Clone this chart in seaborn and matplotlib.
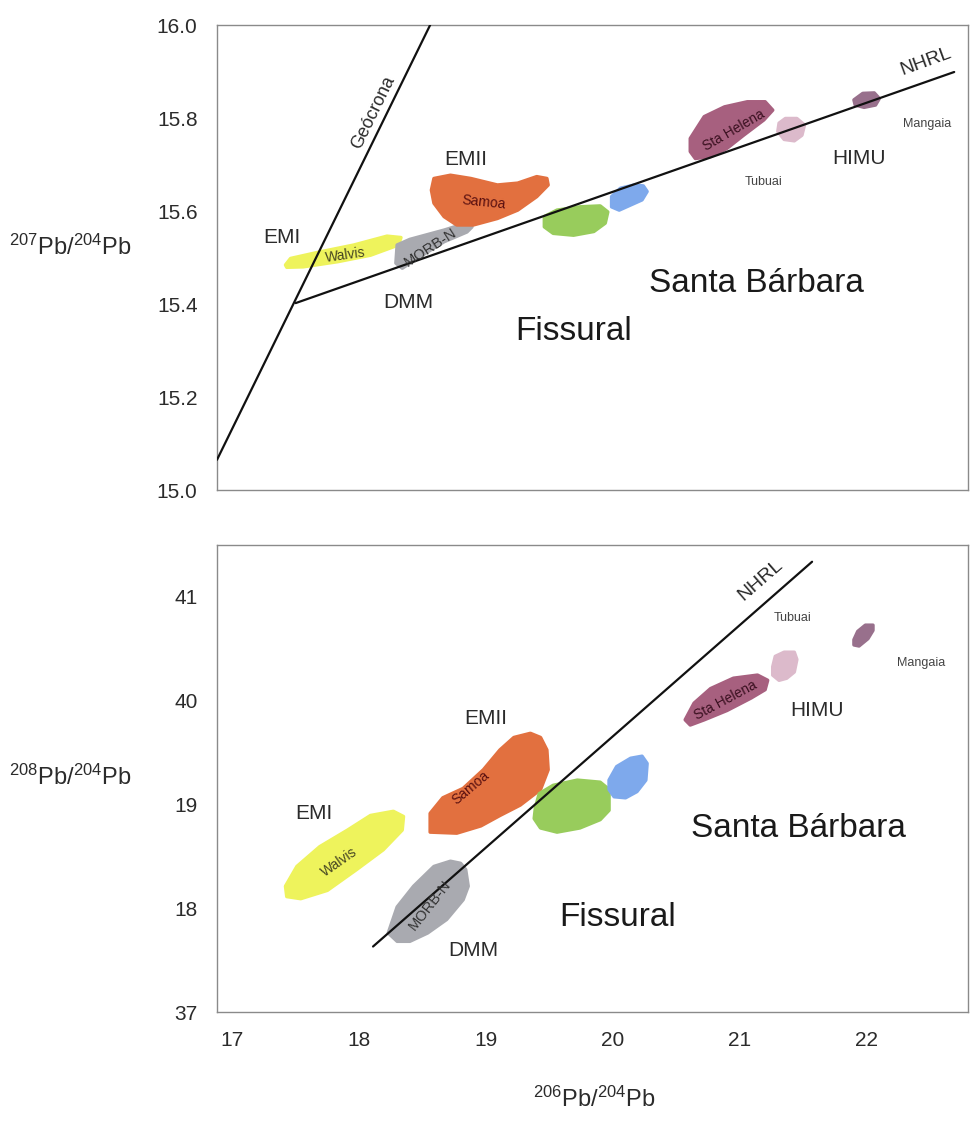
#!/usr/bin/env python3
"""
Pb isotope diagrams: 207Pb/204Pb and 208Pb/204Pb vs 206Pb/204Pb,
mantle end-member fields (EMI, EMII, DMM, HIMU) with NHRL and geochron.
"""

import numpy as np
import pandas as pd
import matplotlib
matplotlib.use("Agg")
import matplotlib.pyplot as plt
import seaborn as sns

# ── Data ──────────────────────────────────────────────────────────────────────
x_ticks = [17, 18, 19, 20, 21, 22]
top_yticks = [15.0, 15.2, 15.4, 15.6, 15.8, 16.0]
top_yticklabels = ["15.0", "15.2", "15.4", "15.6", "15.8", "16.0"]
bot_yticks = [37, 38, 39, 40, 41]
bot_yticklabels = ["37", "18", "19", "40", "41"]  # as printed in the original

# reference lines (206Pb/204Pb, 207Pb/204Pb)
geochron_x = [16.88, 18.56]
geochron_y = [15.065, 16.0]
nhrl_top_x = [17.50, 22.69]
nhrl_top_y = [15.402, 15.899]
# NHRL in 208 space
nhrl_bot_x = [18.11, 21.57]
nhrl_bot_y = [37.63, 41.33]

# fields, 207Pb/204Pb panel
walvis_top_x = [17.42, 17.46, 17.69, 17.96, 18.22, 18.33, 18.31, 18.09, 17.83, 17.56, 17.43]
walvis_top_y = [15.484, 15.498, 15.512, 15.527, 15.546, 15.543, 15.527, 15.505, 15.491, 15.480, 15.479]
morb_top_x = [18.30, 18.40, 18.67, 18.80, 18.89, 18.85, 18.67, 18.48, 18.34, 18.29]
morb_top_y = [15.527, 15.539, 15.559, 15.570, 15.566, 15.555, 15.534, 15.502, 15.477, 15.488]
samoa_top_x = [18.59, 18.72, 18.88, 19.09, 19.25, 19.40, 19.48, 19.49, 19.40, 19.25,
               19.09, 18.90, 18.77, 18.67, 18.59, 18.57]
samoa_top_y = [15.670, 15.677, 15.670, 15.656, 15.660, 15.674, 15.670, 15.656, 15.631, 15.602,
               15.584, 15.570, 15.570, 15.588, 15.617, 15.645]
green_top_x = [19.46, 19.56, 19.74, 19.90, 19.96, 19.94, 19.85, 19.69, 19.53, 19.46]
green_top_y = [15.588, 15.602, 15.609, 15.611, 15.598, 15.574, 15.556, 15.548, 15.552, 15.566]
blue_top_x = [19.99, 20.06, 20.17, 20.24, 20.27, 20.23, 20.14, 20.05, 19.99]
blue_top_y = [15.631, 15.649, 15.656, 15.654, 15.642, 15.624, 15.613, 15.602, 15.609]
helena_top_x = [20.61, 20.72, 20.88, 21.06, 21.20, 21.26, 21.19, 21.03, 20.90, 20.77, 20.65, 20.61]
helena_top_y = [15.756, 15.803, 15.824, 15.835, 15.835, 15.817, 15.796, 15.763, 15.735, 15.717,
                15.713, 15.728]
tubuai_top_x = [21.31, 21.36, 21.45, 21.51, 21.49, 21.43, 21.35, 21.30]
tubuai_top_y = [15.789, 15.799, 15.799, 15.785, 15.763, 15.751, 15.754, 15.771]
mangaia_top_x = [21.90, 21.97, 22.06, 22.10, 22.07, 21.98, 21.91]
mangaia_top_y = [15.839, 15.853, 15.854, 15.842, 15.828, 15.823, 15.828]

# fields, 208Pb/204Pb panel
walvis_bot_x = [17.42, 17.51, 17.69, 17.91, 18.09, 18.27, 18.35, 18.34, 18.19, 17.98, 17.75, 17.54, 17.43]
walvis_bot_y = [38.21, 38.40, 38.59, 38.75, 38.89, 38.93, 38.88, 38.75, 38.56, 38.37, 38.17, 38.09, 38.11]
morb_bot_x = [18.23, 18.30, 18.43, 18.59, 18.72, 18.80, 18.84, 18.86, 18.82, 18.69, 18.54, 18.40, 18.30]
morb_bot_y = [37.76, 38.01, 38.21, 38.40, 38.45, 38.43, 38.37, 38.21, 38.08, 37.89, 37.76, 37.68, 37.68]
samoa_bot_x = [18.56, 18.66, 18.82, 18.98, 19.11, 19.22, 19.35, 19.43, 19.48, 19.49, 19.43, 19.27,
               19.11, 18.96, 18.77, 18.56]
samoa_bot_y = [38.91, 39.06, 39.15, 39.33, 39.52, 39.64, 39.68, 39.64, 39.52, 39.33, 39.14, 38.99,
               38.89, 38.79, 38.72, 38.73]
green_bot_x = [19.39, 19.42, 19.53, 19.72, 19.90, 19.97, 19.97, 19.90, 19.74, 19.56, 19.43, 19.38]
green_bot_y = [38.97, 39.10, 39.18, 39.23, 39.21, 39.14, 38.94, 38.85, 38.77, 38.73, 38.77, 38.86]
blue_bot_x = [19.97, 20.03, 20.14, 20.23, 20.27, 20.26, 20.19, 20.10, 20.01, 19.97]
blue_bot_y = [39.23, 39.36, 39.44, 39.46, 39.39, 39.23, 39.12, 39.06, 39.07, 39.14]
helena_bot_x = [20.57, 20.64, 20.77, 20.95, 21.14, 21.22, 21.20, 21.09, 20.90, 20.72, 20.61]
helena_bot_y = [39.81, 39.97, 40.11, 40.21, 40.24, 40.19, 40.10, 40.02, 39.90, 39.81, 39.76]
tubuai_bot_x = [21.26, 21.28, 21.35, 21.43, 21.45, 21.43, 21.37, 21.31, 21.26]
tubuai_bot_y = [40.32, 40.42, 40.46, 40.46, 40.39, 40.27, 40.21, 40.19, 40.24]
mangaia_bot_x = [21.90, 21.93, 21.99, 22.05, 22.05, 22.01, 21.94, 21.90]
mangaia_bot_y = [40.58, 40.66, 40.72, 40.72, 40.67, 40.59, 40.52, 40.53]

field_colors = {
    "walvis": "#EEF35C",
    "morb": "#A9AAB0",
    "samoa": "#E2703F",
    "green": "#98CC5C",
    "blue": "#7EA9EC",
    "helena": "#A7607F",
    "tubuai": "#DCBACB",
    "mangaia": "#98708C",
}

# ── Style ─────────────────────────────────────────────────────────────────────
sns.set_theme(style="white")
plt.rcParams["font.family"] = ["Liberation Sans", "DejaVu Sans"]
plt.rcParams["mathtext.default"] = "regular"
TXT = "#2b2b2b"
TICK_FONT = ["Liberation Sans Narrow", "Liberation Sans", "DejaVu Sans"]

fig = plt.figure(figsize=(9.73, 11.38), dpi=100)
ax_top = fig.add_axes([0.223, 0.5694, 0.772, 0.4086])
ax_bot = fig.add_axes([0.223, 0.1107, 0.772, 0.4103])


def draw_field(ax, xs, ys, key):
    # rounded outline in the same colour softens the hand-drawn shapes
    ax.fill(xs, ys, facecolor=field_colors[key], edgecolor=field_colors[key],
            lw=2.5, joinstyle="round", zorder=2)


def draw_line(ax, xs, ys):
    sns.lineplot(x=xs, y=ys, ax=ax, color="#111111", linewidth=1.6,
                 sort=False, estimator=None, zorder=3)


def style_axes(ax, yticks, yticklabels, ylim, show_x):
    ax.set_xlim(16.88, 22.80)
    ax.set_ylim(*ylim)
    ax.set_yticks(yticks)
    ax.set_yticklabels(yticklabels, family=TICK_FONT, fontsize=15, color=TXT)
    ax.set_xticks(x_ticks)
    if show_x:
        ax.set_xticklabels([str(v) for v in x_ticks], family=TICK_FONT, fontsize=15, color=TXT)
    else:
        ax.set_xticklabels([])
    ax.tick_params(length=0, pad=14)
    for sp in ax.spines.values():
        sp.set_color("#8a8a8a")
        sp.set_linewidth(1.0)
    ax.set_xlabel("")
    ax.set_ylabel("")


# ── Top panel: 207Pb/204Pb ────────────────────────────────────────────────────
ax = ax_top
draw_field(ax, walvis_top_x, walvis_top_y, "walvis")
draw_field(ax, morb_top_x, morb_top_y, "morb")
draw_field(ax, samoa_top_x, samoa_top_y, "samoa")
draw_field(ax, green_top_x, green_top_y, "green")
draw_field(ax, blue_top_x, blue_top_y, "blue")
draw_field(ax, helena_top_x, helena_top_y, "helena")
draw_field(ax, tubuai_top_x, tubuai_top_y, "tubuai")
draw_field(ax, mangaia_top_x, mangaia_top_y, "mangaia")
draw_line(ax, geochron_x, geochron_y)
draw_line(ax, nhrl_top_x, nhrl_top_y)
style_axes(ax, top_yticks, top_yticklabels, (15.0, 16.0), False)

ax.text(18.11, 15.811, "Geócrona", rotation=64, fontsize=13, color=TXT, ha="center", va="center")
ax.text(22.47, 15.922, "NHRL", rotation=20, fontsize=14, color=TXT, ha="center", va="center")
ax.text(17.39, 15.544, "EMI", fontsize=15, color=TXT, ha="center", va="center")
ax.text(18.39, 15.404, "DMM", fontsize=15, color=TXT, ha="center", va="center")
ax.text(18.84, 15.710, "EMII", fontsize=15, color=TXT, ha="center", va="center")
ax.text(21.94, 15.714, "HIMU", fontsize=15, color=TXT, ha="center", va="center")
ax.text(21.19, 15.662, "Tubuai", fontsize=9, color="#444444", ha="center", va="center")
ax.text(22.48, 15.787, "Mangaia", fontsize=9, color="#444444", ha="center", va="center")
ax.text(21.13, 15.445, "Santa Bárbara", fontsize=24, color="#1a1a1a", ha="center", va="center")
ax.text(19.69, 15.340, "Fissural", fontsize=24, color="#1a1a1a", ha="center", va="center")
ax.text(17.89, 15.505, "Walvis", rotation=8, fontsize=10, color="#444422", ha="center", va="center")
ax.text(18.56, 15.521, "MORB-N", rotation=33, fontsize=10.5, color="#333333", ha="center", va="center")
ax.text(18.98, 15.619, "Samoa", rotation=-6, fontsize=10, color="#5a1010", ha="center", va="center")
ax.text(20.95, 15.774, "Sta Helena", rotation=30, fontsize=10, color="#3a1020", ha="center", va="center")
ax.set_ylabel(r"$^{207}$Pb/$^{204}$Pb", fontsize=17, color=TXT, rotation=0)
ax.yaxis.set_label_coords(-0.196, 0.495)

# ── Bottom panel: 208Pb/204Pb ─────────────────────────────────────────────────
ax = ax_bot
draw_field(ax, walvis_bot_x, walvis_bot_y, "walvis")
draw_field(ax, morb_bot_x, morb_bot_y, "morb")
draw_field(ax, samoa_bot_x, samoa_bot_y, "samoa")
draw_field(ax, green_bot_x, green_bot_y, "green")
draw_field(ax, blue_bot_x, blue_bot_y, "blue")
draw_field(ax, helena_bot_x, helena_bot_y, "helena")
draw_field(ax, tubuai_bot_x, tubuai_bot_y, "tubuai")
draw_field(ax, mangaia_bot_x, mangaia_bot_y, "mangaia")
draw_line(ax, nhrl_bot_x, nhrl_bot_y)
style_axes(ax, bot_yticks, bot_yticklabels, (37.0, 41.49), True)

ax.text(21.16, 41.154, "NHRL", rotation=41, fontsize=14, color=TXT, ha="center", va="center")
ax.text(17.64, 38.913, "EMI", fontsize=15, color=TXT, ha="center", va="center")
ax.text(19.00, 39.827, "EMII", fontsize=15, color=TXT, ha="center", va="center")
ax.text(18.90, 37.596, "DMM", fontsize=15, color=TXT, ha="center", va="center")
ax.text(21.61, 39.904, "HIMU", fontsize=15, color=TXT, ha="center", va="center")
ax.text(21.42, 40.788, "Tubuai", fontsize=9, color="#444444", ha="center", va="center")
ax.text(22.43, 40.356, "Mangaia", fontsize=9, color="#444444", ha="center", va="center")
ax.text(21.46, 38.769, "Santa Bárbara", fontsize=24, color="#1a1a1a", ha="center", va="center")
ax.text(20.04, 37.913, "Fissural", fontsize=24, color="#1a1a1a", ha="center", va="center")
ax.text(17.84, 38.442, "Walvis", rotation=35, fontsize=10, color="#444422", ha="center", va="center")
ax.text(18.56, 38.029, "MORB-N", rotation=52, fontsize=10.5, color="#333333", ha="center", va="center")
ax.text(18.88, 39.154, "Samoa", rotation=40, fontsize=10, color="#5a1010", ha="center", va="center")
ax.text(20.89, 40.000, "Sta Helena", rotation=28, fontsize=10, color="#3a1020", ha="center", va="center")
ax.set_ylabel(r"$^{208}$Pb/$^{204}$Pb", fontsize=17, color=TXT, rotation=0)
ax.yaxis.set_label_coords(-0.196, 0.475)
ax.set_xlabel(r"$^{206}$Pb/$^{204}$Pb", fontsize=17, color=TXT)
ax.xaxis.set_label_coords(0.502, -0.161)

fig.savefig("out.png", dpi=100)
